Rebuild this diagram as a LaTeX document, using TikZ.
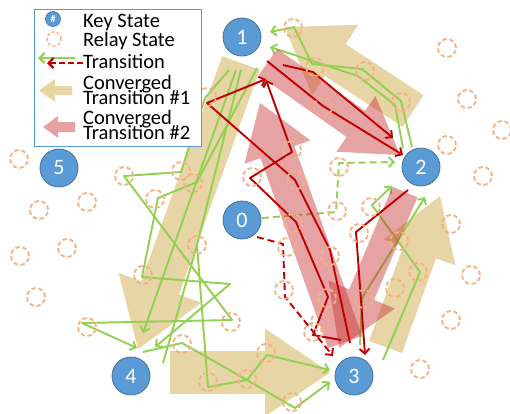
\documentclass[tikz,border=0pt]{standalone}
\usepackage{fontspec}
\setmainfont{Carlito}
\usetikzlibrary{arrows.meta,calc}
\definecolor{keyblue}{HTML}{5B9BD5}
\definecolor{keyedge}{HTML}{41719C}
\definecolor{relayorange}{HTML}{F4B183}
\definecolor{trgreen}{HTML}{92D050}
\definecolor{trred}{HTML}{C00000}
\definecolor{tanone}{HTML}{E7D5A5}
\definecolor{pinktwo}{HTML}{C83232}
\newcommand{\convarrow}[6]{%
  \coordinate (cvA) at #2;
  \coordinate (cvB) at #3;
  \coordinate (cvC) at ($(cvB)!#6!(cvA)$);
  \fill[#1] ($(cvA)!#4!90:(cvB)$) -- ($(cvC)!#4!-90:(cvA)$) -- ($(cvC)!#5!-90:(cvA)$) -- (cvB) -- ($(cvC)!#5!90:(cvA)$) -- ($(cvC)!#4!90:(cvA)$) -- ($(cvA)!#4!-90:(cvB)$) -- cycle;}
\begin{document}
\begin{tikzpicture}[x=1pt,y=-1pt,
  keystate/.style={circle,fill=keyblue,draw=keyedge,line width=0.8pt,minimum size=38pt,inner sep=0pt,text=white,font=\fontsize{22}{22}\selectfont},
  relay/.style={circle,draw=relayorange,line width=1.8pt,dash pattern=on 4.5pt off 2.6pt,minimum size=18pt,inner sep=0pt},
  gline/.style={draw=trgreen,line width=1.9pt,line join=round},
  rline/.style={draw=trred,line width=1.9pt,line join=round},
  dashline/.style={dash pattern=on 7pt off 4pt},
  barbtip/.style={-{Straight Barb[length=5pt,width=10pt]}},
  convone/.style={fill=tanone},
  convtwo/.style={fill=pinktwo,fill opacity=0.45},
  legtext/.style={anchor=base west,inner sep=0pt,font=\fontsize{20.5}{15}\selectfont},
]
\useasboundingbox (0,0) rectangle (510,413);

% converged transition #1 (tan)
\convarrow{convone}{(241,63)}{(138,349)}{20pt}{44pt}{65pt}
\convarrow{convone}{(413,111)}{(285,27)}{19pt}{42pt}{60pt}
\convarrow{convone}{(170,372.5)}{(330,372.5)}{21.5pt}{44pt}{65pt}
\convarrow{convone}{(385.5,347)}{(440,196)}{17.5pt}{38pt}{60pt}

% green transitions
\draw[gline,barbtip] (229,70) -- (205,98) -- (188,150) -- (181,172) -- (124,176) -- (232,320) -- (82,323) -- (137,348);
\draw[gline,barbtip] (257,68) -- (197,182) -- (158,198) -- (142,277) -- (230,284) -- (155,347);
\draw[gline,barbtip] (236,70) -- (143,333);
\draw[gline] (241,70) -- (197,245);
\draw[gline,barbtip] (163,363) -- (197,245) -- (208,387) -- (247,380) -- (267,355) -- (330,370);
\draw[gline,barbtip] (143,352) -- (182,343) -- (247,380) -- (295,408) -- (330,382);
\draw[gline,barbtip] (383,360) -- (420,272) -- (372,205) -- (392,186);
\draw[gline,barbtip] (360,345) -- (362,298) -- (425,197);
\draw[gline,barbtip] (412,147) -- (401,101) -- (362,69) -- (312,64) -- (294,27) -- (270,32);
\draw[gline,barbtip] (403,148) -- (395,105) -- (358,76) -- (270,47);
\draw[gline,dashline,barbtip] (262,218) -- (336,212) -- (339,163) -- (395,162);

% converged transition #2 (pink)
\convarrow{convtwo}{(268,62)}{(400,155)}{16pt}{34pt}{54pt}
\convarrow{convtwo}{(345,342)}{(260,103)}{18pt}{35pt}{52pt}
\convarrow{convtwo}{(405,192)}{(339,348)}{13.5pt}{36pt}{58pt}

% red transitions
\draw[rline,barbtip] (283,65) -- (313,72) -- (393,138);
\draw[rline,barbtip] (267,61) -- (323,106) -- (403,155);
\draw[rline,barbtip] (350,343) -- (330,250) -- (295,180) -- (207,103) -- (266,79);
\draw[rline,barbtip] (341,340) -- (313,335) -- (328,297) -- (296,222) -- (250,178) -- (292,152) -- (266,80);
\draw[rline,barbtip] (408,190) -- (356,232) -- (365,355);
\draw[rline,dashline,barbtip] (257,237) -- (283,244) -- (285,297) -- (333,356);

% relay states
\foreach \p [count=\i] in {(293,28),(447,48),(315,67),(365,71),(467,99),(401,102),(323,107),(502,130),(447,145),(339,167),(483,176),(292,150),(252,177),(296,180),(207,97),(19,159),(124,176),(181,171),(193,183),(155,199),(87,202),(39,210),(67,248),(20,256),(197,245),(143,275),(36,297),(87,327),(231,322),(182,344),(208,382),(247,379),(337,211),(293,223),(287,247),(371,207),(359,233),(399,241),(330,256),(451,224),(418,272),(395,288),(284,290),(327,298),(364,299),(320,322),(313,332),(471,275),(451,320),(420,369),(266,353),(292,402)}
  \node[relay] (r\i) at \p {};

% key states
\node[keystate] (k0) at (242,220) {0};
\node[keystate] (k1) at (242,37) {1};
\node[keystate] (k2) at (421,167) {2};
\node[keystate] (k3) at (354,376) {3};
\node[keystate] (k4) at (131,376) {4};
\node[keystate] (k5) at (59,168) {5};

% legend
\node[draw=keyblue,fill=white,line width=1pt,minimum width=167pt,minimum height=137pt,anchor=north west,inner sep=0pt] (legend) at (34,9) {};
\node[keystate,minimum size=15pt,line width=0.6pt,font=\fontsize{10}{10}\selectfont\bfseries] (lkey) at (53,19) {\#};
\node[relay,minimum size=14pt,line width=1.4pt,dash pattern=on 3pt off 2.2pt] (lrelay) at (54,39) {};
\coordinate (lgA) at (75,58); \coordinate (lgB) at (38,58);
\draw[gline,line width=2.2pt,barbtip] (lgA) -- (lgB);
\coordinate (lrA) at (83,63); \coordinate (lrB) at (47,63);
\draw[rline,line width=2.2pt,dash pattern=on 6pt off 3pt,barbtip] (lrA) -- (lrB);
\convarrow{convone}{(72,90.5)}{(39,90.5)}{4.5pt}{11.5pt}{16pt}
\convarrow{convtwo}{(75,127)}{(43,127)}{5pt}{11pt}{15pt}
\node[legtext] (t1) at (83,27) {Key State};
\node[legtext] (t2) at (83,46) {Relay State};
\node[legtext] (t3) at (83,68) {Transition};
\node[legtext] (t4) at (83,89) {Converged};
\node[legtext] (t5) at (83,104) {Transition \#1};
\node[legtext] (t6) at (83,124) {Converged};
\node[legtext] (t7) at (83,139) {Transition \#2};
\end{tikzpicture}
\end{document}
